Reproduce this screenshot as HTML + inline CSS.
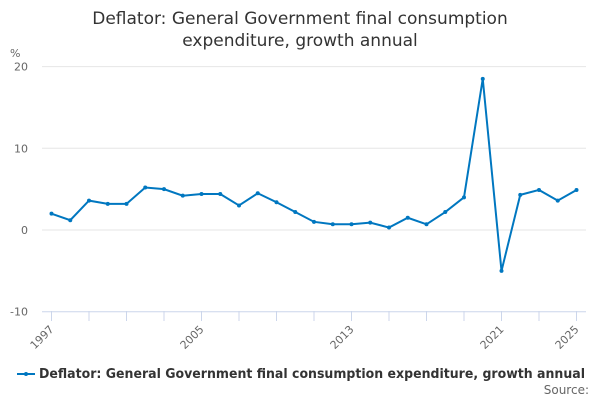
<!DOCTYPE html>
<html><head><meta charset="utf-8"><style>
body{margin:0;background:#fff;font-family:"Liberation Sans","DejaVu Sans",sans-serif}
</style></head><body>
<svg width="600" height="400" xmlns="http://www.w3.org/2000/svg" style="font-family:'DejaVu Sans','Liberation Sans',sans-serif">
<text x="300" y="24" text-anchor="middle" font-size="17" fill="#333"><tspan x="300">Deflator: General Government final consumption</tspan><tspan x="300" dy="22">expenditure, growth annual</tspan></text>
<text x="10" y="57" font-size="11" fill="#666">%</text>
<g id="grid"></g><g id="xaxis"></g><g id="series"></g>
<g>
<line x1="17" y1="374" x2="35" y2="374" stroke="#0077c0" stroke-width="2"/><circle cx="26" cy="374" r="2" fill="#0077c0"/>
<text x="39" y="378" font-size="13" font-weight="bold" fill="#333" textLength="546" lengthAdjust="spacingAndGlyphs">Deflator: General Government final consumption expenditure, growth annual</text>
</g>
<text x="589" y="394" text-anchor="end" font-size="12" fill="#666">Source:</text>
</svg>
<script>
const years=[1997,1998,1999,2000,2001,2002,2003,2004,2005,2006,2007,2008,2009,2010,2011,2012,2013,2014,2015,2016,2017,2018,2019,2020,2021,2022,2023,2024,2025];
const values=[2.0,1.2,3.6,3.2,3.2,5.2,5.0,4.2,4.4,4.4,3.0,4.5,3.4,2.2,1.0,0.7,0.7,0.9,0.3,1.5,0.7,2.2,4.0,18.5,-5.0,4.3,4.9,3.6,4.9];
const yTicks=[20,10,0,-10];
const xLabels=[1997,2005,2013,2021,2025];
const NS="http://www.w3.org/2000/svg";
const xs=y=>51.5+(y-1997)*(576.5-51.5)/28;
const ys=v=>230-v*8.17;
function mk(t,a,p){const e=document.createElementNS(NS,t);for(const k in a)e.setAttribute(k,a[k]);p.appendChild(e);return e;}
const grid=document.getElementById('grid');
yTicks.forEach(v=>{
 const l=mk('line',{x1:42,x2:586,y1:ys(v),y2:ys(v),stroke:v===-10?'#ccd6eb':'#e6e6e6','stroke-width':1},grid);
 
 
 const t=mk('text',{x:28,y:ys(v)+4,'text-anchor':'end','font-size':11,fill:'#666'},grid);t.textContent=v;
 
 
});
const xa=document.getElementById('xaxis');
for(let y=1997;y<=2025;y+=2){
 const l=mk('line',{x1:xs(y),x2:xs(y),y1:311,y2:321,stroke:'#ccd6eb'},xa);
 
 
}
xLabels.forEach(y=>{
 const t=mk('text',{x:xs(y)+3,y:330,'text-anchor':'end','font-size':11,fill:'#666',transform:`rotate(-45 ${xs(y)+3} 330)`},xa);t.textContent=y;
 
 
});
const s=document.getElementById('series');
const p=mk('polyline',{points:years.map((y,i)=>xs(y)+','+ys(values[i])).join(' '),fill:'none',stroke:'#0077c0','stroke-width':2},s);


years.forEach((y,i)=>{
 const c=mk('circle',{cx:xs(y),cy:ys(values[i]),r:2,fill:'#0077c0'},s);
 
 
});
</script>
</body></html>
